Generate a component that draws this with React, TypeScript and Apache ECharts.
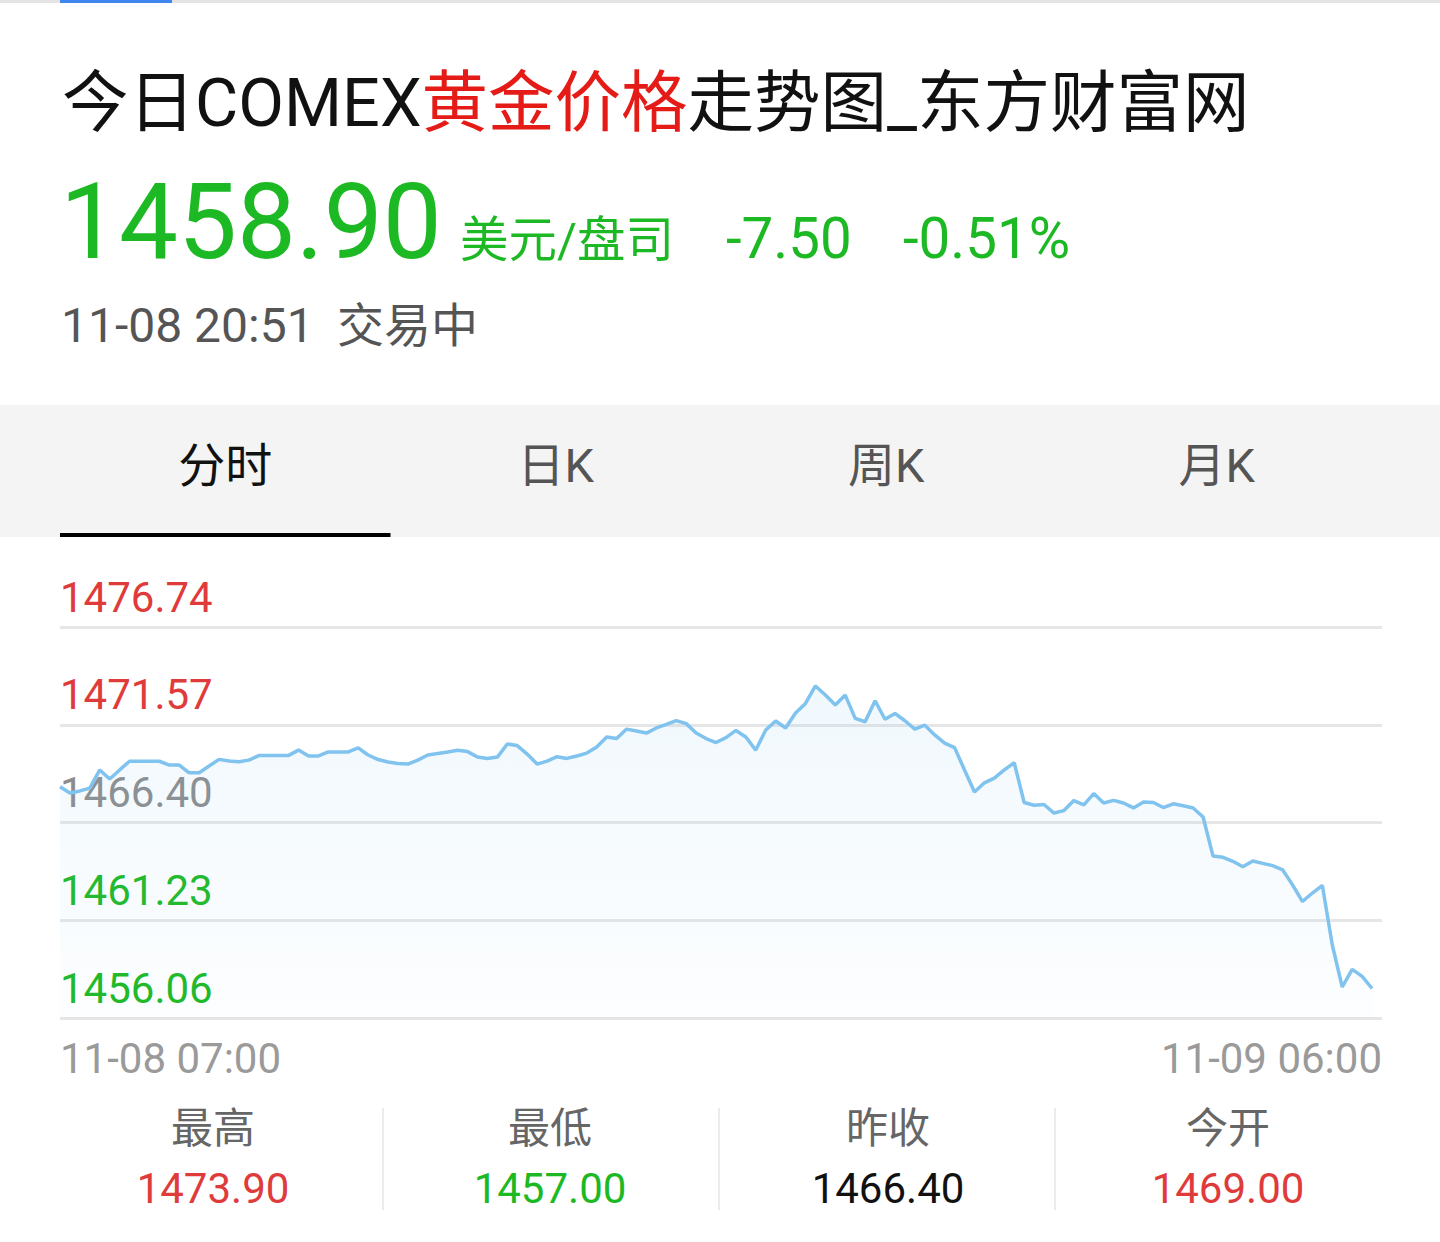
import React, { useEffect, useRef } from 'react';
import * as echarts from 'echarts';

// Quote header
const titleParts = ['今日COMEX', '黄金价格', '走势图_东方财富网'];
const lastPrice = '1458.90';
const priceUnit = '美元/盘司';
const changeValue = '-7.50';
const changePercent = '-0.51%';
const quoteTime = '11-08 20:51';
const quoteStatus = '交易中';

// Period tabs
const tabs = ['分时', '日K', '周K', '月K'];

// Intraday axis
const prevClose = 1466.4;
const priceTicks = [1456.06, 1461.23, 1466.4, 1471.57, 1476.74];
const axisTimeLabels = ['11-08 07:00', '11-09 06:00'];
const slotCount = 134;

// Intraday prices (one per slot, trading still in progress)
const prices = [
  1468.29, 1467.96, 1468.07, 1468.22, 1469.18, 1468.7, 1469.18, 1469.64, 1469.64, 1469.64,
  1469.64, 1469.44, 1469.44, 1469.03, 1469.03, 1469.39, 1469.74, 1469.65, 1469.61, 1469.7,
  1469.94, 1469.95, 1469.95, 1469.95, 1470.23, 1469.92, 1469.92, 1470.13, 1470.13, 1470.13,
  1470.35, 1469.97, 1469.73, 1469.6, 1469.52, 1469.49, 1469.7, 1469.97, 1470.05, 1470.13,
  1470.22, 1470.15, 1469.86, 1469.79, 1469.86, 1470.55, 1470.47, 1470.02, 1469.49, 1469.65,
  1469.88, 1469.79, 1469.92, 1470.07, 1470.39, 1470.92, 1470.84, 1471.34, 1471.24, 1471.13,
  1471.4, 1471.59, 1471.79, 1471.63, 1471.13, 1470.84, 1470.63, 1470.89, 1471.27, 1470.92,
  1470.23, 1471.29, 1471.77, 1471.4, 1472.19, 1472.7, 1473.62, 1473.14, 1472.61, 1473.14,
  1471.91, 1471.73, 1472.84, 1471.86, 1472.17, 1471.78, 1471.34, 1471.55, 1471.03, 1470.6,
  1470.36, 1469.18, 1468.01, 1468.5, 1468.75, 1469.18, 1469.56, 1467.46, 1467.31, 1467.35,
  1466.9, 1467.03, 1467.56, 1467.33, 1467.93, 1467.43, 1467.57, 1467.43, 1467.17, 1467.48,
  1467.46, 1467.19, 1467.39, 1467.29, 1467.17, 1466.69, 1464.63, 1464.56, 1464.35, 1464.06,
  1464.36, 1464.24, 1464.12, 1463.9, 1463.1, 1462.22, 1462.67, 1463.07, 1459.92, 1457.7,
  1458.63, 1458.26, 1457.62,
];

// Day statistics
const statNames = ['最高', '最低', '昨收', '今开'];
const statValues = [1473.9, 1457.0, 1466.4, 1469.0];

const UP = '#e03b3b';
const DOWN = '#1db925';
const FLAT_AXIS = '#8c8c8c';
const FONT = "Roboto, 'Noto Sans CJK SC', sans-serif";

const colorFor = (v: number, flat: string) =>
  Math.abs(v - prevClose) < 1e-6 ? flat : v > prevClose ? UP : DOWN;

export default function App() {
  const ref = useRef<HTMLDivElement>(null);

  useEffect(() => {
    if (!ref.current) return;
    const chart = echarts.init(ref.current, null, { renderer: 'svg' });

    const W = 1440;
    const plotLeft = 60;
    const plotRight = 1382;
    const tabW = (plotRight - plotLeft) / tabs.length;
    const statCenters = [213, 550, 888, 1228];
    const separators = [383, 719, 1055];

    const graphic: any[] = [
      // top strip
      { type: 'rect', shape: { x: 0, y: 0, width: W, height: 3 }, style: { fill: '#e4e4e4' } },
      { type: 'rect', shape: { x: 60, y: 0, width: 112, height: 3 }, style: { fill: '#3f86ee' } },
      // title
      {
        type: 'text',
        x: 62,
        y: 103,
        style: {
          text: `{a|${titleParts[0]}}{b|${titleParts[1]}}{a|${titleParts[2]}}`,
          verticalAlign: 'middle',
          rich: {
            a: { fontSize: 66.5, fill: '#111111', fontFamily: FONT },
            b: { fontSize: 66.5, fill: '#e41b17', fontFamily: FONT },
          },
        },
      },
      // price line
      {
        type: 'text', x: 60, y: 222,
        style: { text: lastPrice, fontSize: 105, fill: DOWN, fontFamily: FONT, verticalAlign: 'middle' },
      },
      {
        type: 'text', x: 460, y: 240,
        style: { text: priceUnit, fontSize: 48.5, fill: DOWN, fontFamily: FONT, verticalAlign: 'middle' },
      },
      {
        type: 'text', x: 726, y: 239,
        style: { text: changeValue, fontSize: 56.5, fill: DOWN, fontFamily: FONT, verticalAlign: 'middle' },
      },
      {
        type: 'text', x: 903, y: 239,
        style: { text: changePercent, fontSize: 56.5, fill: DOWN, fontFamily: FONT, verticalAlign: 'middle' },
      },
      {
        type: 'text', x: 61, y: 325,
        style: { text: quoteTime, fontSize: 48, fill: '#555555', fontFamily: FONT, verticalAlign: 'middle' },
      },
      {
        type: 'text', x: 337, y: 325,
        style: { text: quoteStatus, fontSize: 47, fill: '#555555', fontFamily: FONT, verticalAlign: 'middle' },
      },
      // tab bar
      { type: 'rect', shape: { x: 0, y: 405, width: W, height: 132 }, style: { fill: '#f4f4f4' } },
      ...tabs.map((t, i) => ({
        type: 'text',
        x: plotLeft + tabW * (i + 0.5),
        y: 465,
        style: {
          text: t, fontSize: 47, fill: i === 0 ? '#111111' : '#555555', fontFamily: FONT,
          align: 'center', verticalAlign: 'middle',
        },
      })),
      { type: 'rect', shape: { x: plotLeft, y: 533, width: tabW, height: 4 }, style: { fill: '#000000' } },
      // statistics
      ...separators.map((x) => ({
        type: 'rect', shape: { x: x - 1, y: 1108, width: 2, height: 102 }, style: { fill: '#ebebeb' },
      })),
      ...statNames.map((n, i) => ({
        type: 'text', x: statCenters[i], y: 1128,
        style: { text: n, fontSize: 42, fill: '#666666', fontFamily: FONT, align: 'center', verticalAlign: 'middle' },
      })),
      ...statValues.map((v, i) => ({
        type: 'text', x: statCenters[i], y: 1188,
        style: {
          text: v.toFixed(2), fontSize: 42, fill: colorFor(v, '#111111'), fontFamily: FONT,
          align: 'center', verticalAlign: 'middle',
        },
      })),
    ];

    const slots = Array.from({ length: slotCount }, (_, i) => String(i));

    chart.setOption({
      animation: false,
      backgroundColor: '#ffffff',
      grid: { left: plotLeft, right: W - plotRight, top: 627, bottom: 1242 - 1018, outerBoundsMode: 'none' },
      xAxis: {
        type: 'category',
        boundaryGap: false,
        data: slots,
        axisLine: { show: false },
        axisTick: { show: false },
        splitLine: { show: false },
        axisLabel: {
          interval: (i: number) => i === 0 || i === slotCount - 1,
          formatter: (_v: string, i: number) => (i === 0 ? axisTimeLabels[0] : axisTimeLabels[1]),
          showMinLabel: true,
          showMaxLabel: true,
          alignMinLabel: 'left',
          alignMaxLabel: 'right',
          color: '#9a9a9a',
          fontSize: 42,
          fontFamily: FONT,
          margin: 19,
          lineHeight: 42,
        },
      },
      yAxis: {
        type: 'value',
        min: priceTicks[0],
        max: priceTicks[priceTicks.length - 1],
        axisLine: { show: false },
        axisTick: { show: false, customValues: priceTicks },
        splitLine: { show: true, lineStyle: { color: '#e6e6e6', width: 3 } },
        axisLabel: {
          inside: true,
          customValues: priceTicks,
          formatter: (v: number) => Number(v).toFixed(2),
          color: (v: any) => colorFor(parseFloat(v), FLAT_AXIS),
          fontSize: 42,
          fontFamily: FONT,
          margin: 0,
          verticalAlign: 'bottom',
          lineHeight: 60,
        },
      },
      series: [
        {
          type: 'line',
          data: prices,
          symbol: 'none',
          smooth: false,
          lineStyle: { color: '#80c3ef', width: 3.5 },
          areaStyle: {
            color: new echarts.graphic.LinearGradient(0, 0, 0, 1, [
              { offset: 0, color: 'rgba(128,195,239,0.16)' },
              { offset: 1, color: 'rgba(128,195,239,0.03)' },
            ]),
          },
          z: 3,
        },
      ],
      graphic,
    });

    return () => chart.dispose();
  }, []);

  return (
    <div
      ref={ref}
      style={{ position: 'absolute', left: 0, top: 0, width: 1440, height: 1242, background: '#fff' }}
    />
  );
}
